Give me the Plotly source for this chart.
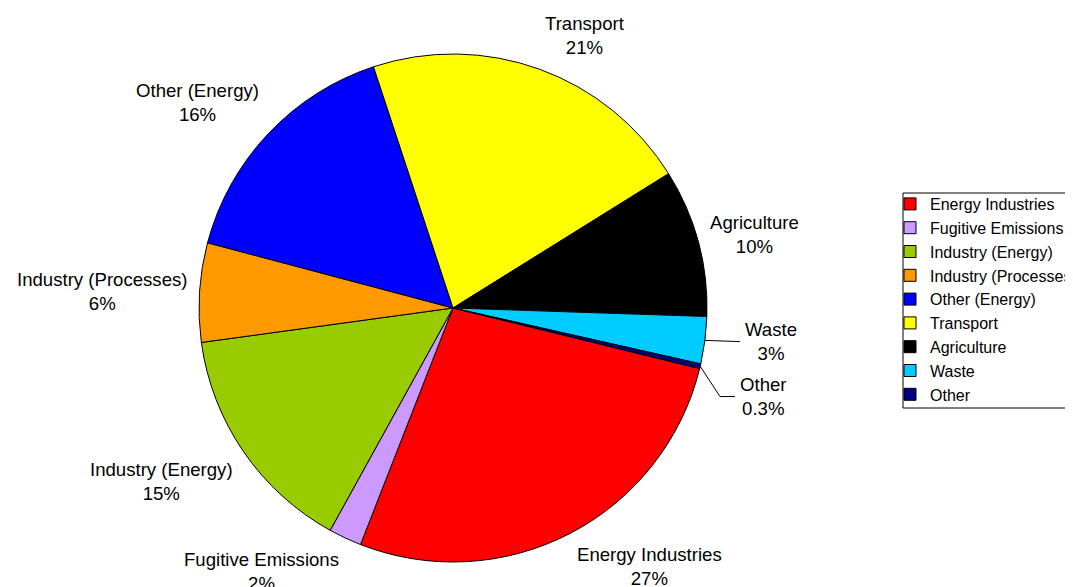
import math
import plotly.graph_objects as go

# Emissions by sector (shares, %)
sectors = ["Energy Industries", "Fugitive Emissions", "Industry (Energy)",
           "Industry (Processes)", "Other (Energy)", "Transport",
           "Agriculture", "Waste", "Other"]
shares = [27.1, 2.1, 14.8, 6.3, 15.8, 21.2, 9.4, 3.0, 0.3]
pct_labels = ["27%", "2%", "15%", "6%", "16%", "21%", "10%", "3%", "0.3%"]
colours = ["#FF0000", "#CC99FF", "#99CC00", "#FF9900", "#0000FF",
           "#FFFF00", "#000000", "#00CCFF", "#000080"]

W, H = 1073, 587
PAGE_OFF = 8                    # the page body margin shifts the figure by 8 px
cx, cy, R = 453, 308, 254      # pie centre and radius in screen pixels
start = 103.8                   # first slice starts here (deg clockwise from 12 o'clock)
gap = 10                        # label distance from the rim
# small slices get their label pushed aside, with a leader line
push = {"Waste": (28, 0), "Other": (28, 28), "Agriculture": (0, -5)}


def to_paper(px, py):
    return (px - PAGE_OFF) / W, 1 - (py - PAGE_OFF) / H


fig = go.Figure()

x0d, y1d = to_paper(cx - R, cy - R)
x1d, y0d = to_paper(cx + R, cy + R)
fig.add_trace(go.Pie(
    labels=sectors,
    values=shares,
    textinfo="none",
    marker=dict(colors=colours, line=dict(color="black", width=1)),
    sort=False,
    direction="clockwise",
    rotation=start,
    domain=dict(x=[x0d, x1d], y=[y0d, y1d]),
    hoverinfo="label+percent",
))

total = sum(shares)
acc = 0
annotations = []
shapes = []
for name, v, pct in zip(sectors, shares, pct_labels):
    mid = math.radians(start + (acc + v / 2) / total * 360)
    acc += v
    s, c = math.sin(mid), math.cos(mid)
    px, py = cx + (R + gap) * s, cy - (R + gap) * c
    xa = "center" if abs(s) < 0.3 else ("left" if s > 0 else "right")
    ya = "middle" if abs(c) < 0.3 else ("bottom" if c > 0 else "top")
    if name in push:
        dx, dy = push[name]
        if dx:
            # leader line from the rim to the label
            rx, ry = cx + R * s, cy - R * c
            lx, ly = px + dx - 3, py + dy
            if dy:
                pts = [(rx, ry), (lx - 15, ly), (lx, ly)]
            else:
                pts = [(rx, ry), (lx, ly)]
            for (xa0, ya0), (xa1, ya1) in zip(pts[:-1], pts[1:]):
                a0, b0 = to_paper(xa0, ya0)
                a1, b1 = to_paper(xa1, ya1)
                shapes.append(dict(type="line", xref="paper", yref="paper",
                                   x0=a0, y0=b0, x1=a1, y1=b1,
                                   line=dict(color="black", width=1)))
        px, py = px + dx, py + dy
    ax, ay = to_paper(px, py)
    annotations.append(dict(
        x=ax, y=ay, xref="paper", yref="paper",
        text=f"{name}<br>{pct}", showarrow=False,
        xanchor=xa, yanchor=ya, align="center",
        font=dict(family="Liberation Sans, Arial", size=18.6, color="black"),
    ))

# legend frame
fx0, fy1 = to_paper(903, 193)
fx1, fy0 = to_paper(1090, 408)
shapes.append(dict(type="rect", xref="paper", yref="paper",
                   x0=fx0, x1=fx1, y0=fy0, y1=fy1,
                   line=dict(color="black", width=1)))

lgx, lgy = to_paper(890, 187)

fig.update_layout(
    width=W,
    height=H,
    margin=dict(l=0, r=0, t=0, b=0, autoexpand=False),
    paper_bgcolor="white",
    plot_bgcolor="white",
    font=dict(family="Liberation Sans, Arial", size=16, color="black"),
    annotations=annotations,
    shapes=shapes,
    legend=dict(
        x=lgx, y=lgy, xanchor="left", yanchor="top",
        borderwidth=0, bgcolor="rgba(0,0,0,0)",
        font=dict(size=16),
        tracegroupgap=0,
    ),
)

fig.write_html("out.html")
